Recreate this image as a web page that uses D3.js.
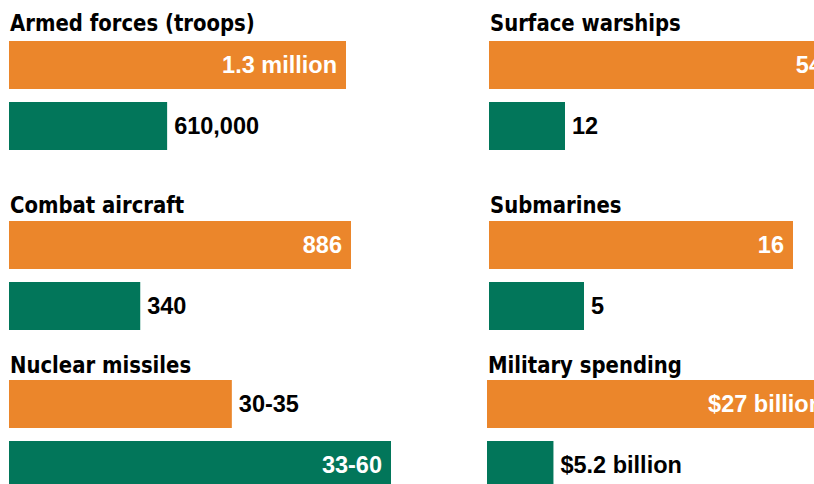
<!DOCTYPE html>
<html>
<head>
<meta charset="utf-8">
<script src="https://cdn.jsdelivr.net/npm/d3@7"></script>
<style>
  body { margin: 0; background: #fff; }
  .title { font-family: "DejaVu Sans Condensed", "Liberation Sans", sans-serif; font-stretch: condensed; font-weight: bold; font-size: 23.5px; fill: #000; }
  .label { font-family: "Liberation Sans", Arial, sans-serif; font-weight: bold; font-size: 23.5px; }
</style>
</head>
<body>
<div id="chart"></div>
<script>
// Data
const categories = ["Armed forces (troops)", "Surface warships", "Combat aircraft", "Submarines", "Nuclear missiles", "Military spending"];
const orangeValues = [1300000, 54, 886, 16, 35, 27];
const greenValues = [610000, 12, 340, 5, 60, 5.2];
const orangeLabels = ["1.3 million", "54", "886", "16", "30-35", "$27 billion"];
const greenLabels = ["610,000", "12", "340", "5", "33-60", "$5.2 billion"];

// Layout for each panel (left x, top of first bar, pixel width of the biggest bar)
const panelX = [9, 489, 9, 489, 9, 487];
const panelTop = [41, 41, 221, 221, 380, 380];
const panelMaxWidth = [337, 342, 342, 304, 382, 345];

const width = 814, height = 484;
const barH = 48, barGap = 13;
const orange = "#eb862b", green = "#02765a";

const svg = d3.select("#chart")
    .append("svg")
    .attr("width", width)
    .attr("height", height);

categories.forEach(function(cat, i) {
    const maxV = Math.max(orangeValues[i], greenValues[i]);
    const x = d3.scaleLinear().domain([0, maxV]).range([0, panelMaxWidth[i]]);

    // One band per series inside the panel
    const y = d3.scaleBand()
        .domain(["orange", "green"])
        .range([0, barH * 2 + barGap])
        .paddingInner(barGap / (barH + barGap));

    const g = svg.append("g")
        .attr("transform", `translate(${panelX[i]},${panelTop[i]})`);

    // condensed headline, squeezed a little more
    g.append("text")
        .attr("class", "title")
        .attr("transform", `translate(1,${i < 2 ? -10 : (i < 4 ? -8 : -7)}) scale(0.93,1)`)
        .text(cat);

    const rows = [
        { key: "orange", value: orangeValues[i], label: orangeLabels[i], color: orange },
        { key: "green", value: greenValues[i], label: greenLabels[i], color: green }
    ];

    g.selectAll("rect")
        .data(rows)
        .join("rect")
        .attr("x", 0)
        .attr("y", d => y(d.key))
        .attr("width", d => x(d.value))
        .attr("height", y.bandwidth())
        .attr("fill", d => d.color);

    // Labels: white inside long bars, black outside short bars
    g.selectAll(".label")
        .data(rows)
        .join("text")
        .attr("class", "label")
        .attr("x", d => x(d.value) > 260 ? x(d.value) - 9 : x(d.value) + 7)
        .attr("y", d => y(d.key) + y.bandwidth() / 2 + 8)
        .attr("text-anchor", d => x(d.value) > 260 ? "end" : "start")
        .attr("fill", d => x(d.value) > 260 ? "#fff" : "#000")
        .text(d => d.label);
});
</script>
</body>
</html>
